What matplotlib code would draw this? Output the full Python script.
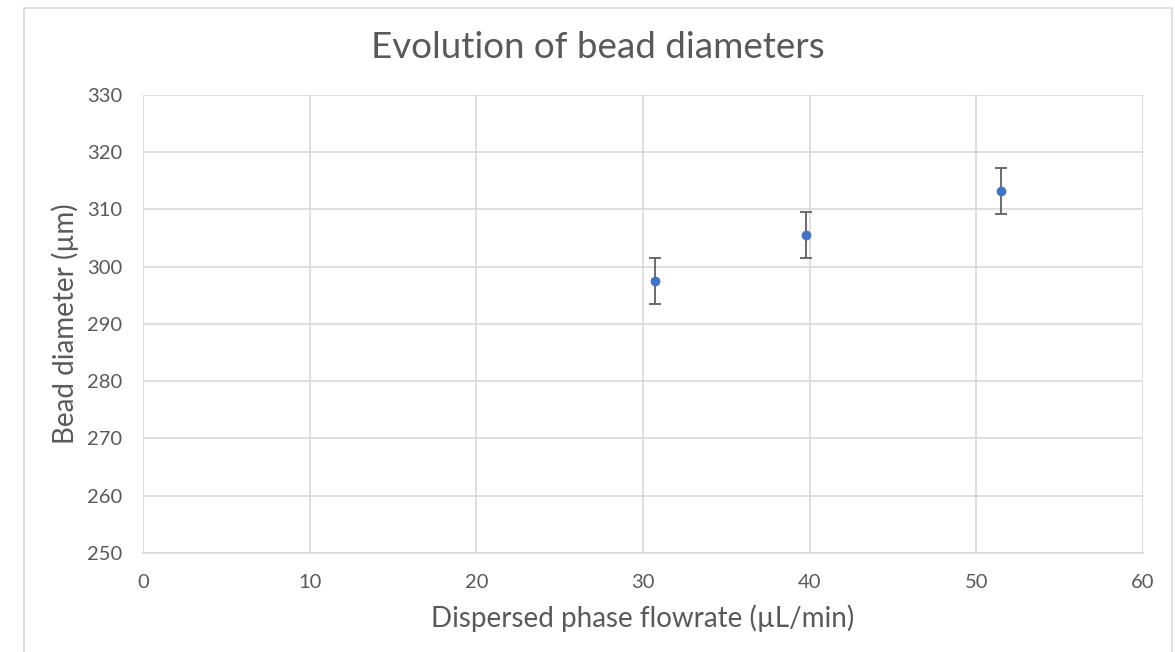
import matplotlib.pyplot as plt
from matplotlib.patches import Rectangle

# data
flowrate = [30.7, 39.8, 51.5]
diameter = [297.5, 305.5, 313.3]
diam_err = [4.0, 4.0, 4.0]

x_ticks = [0, 10, 20, 30, 40, 50, 60]
y_ticks = [250, 260, 270, 280, 290, 300, 310, 320, 330]

plt.rcParams['font.family'] = ['Lato', 'DejaVu Sans']

fig = plt.figure(figsize=(11.75, 6.52), dpi=100)
# outer chart frame
fig.patches.append(Rectangle((24 / 1175, -0.05), (1172 - 24) / 1175, 1.05 - 8 / 652,
                             transform=fig.transFigure, fill=False,
                             edgecolor='#d9d9d9', linewidth=1.2))

ax = fig.add_axes([143 / 1175, 1 - 553 / 652, 1000 / 1175, 458 / 652])
ax.errorbar(flowrate, diameter, yerr=diam_err, fmt='o', color='#4472c4',
            markersize=6, ecolor='#606060', elinewidth=1.3, capsize=4, capthick=1.3)

ax.set_xlim(0, 60)
ax.set_ylim(250, 330)
ax.set_xticks(x_ticks)
ax.set_yticks(y_ticks)
ax.grid(True, color='#d9d9d9', linewidth=1.2)
ax.set_axisbelow(True)
for s in ax.spines.values():
    s.set_visible(False)
ax.spines['bottom'].set_visible(True)
ax.spines['bottom'].set_color('#d9d9d9')
ax.spines['bottom'].set_linewidth(1.2)
ax.tick_params(length=0, labelsize=14.5, labelcolor='#595959')
ax.tick_params(axis='x', pad=15)
ax.tick_params(axis='y', pad=15)

fig.text(598 / 1175, 1 - 47 / 652, 'Evolution of bead diameters', fontsize=26.5,
         color='#595959', ha='center', va='center')
ax.set_xlabel('Dispersed phase flowrate (µL/min)', fontsize=20, color='#595959', labelpad=10)
ax.set_ylabel('Bead diameter (µm)', fontsize=20, color='#595959', labelpad=6)

fig.savefig('out.png', dpi=100)
